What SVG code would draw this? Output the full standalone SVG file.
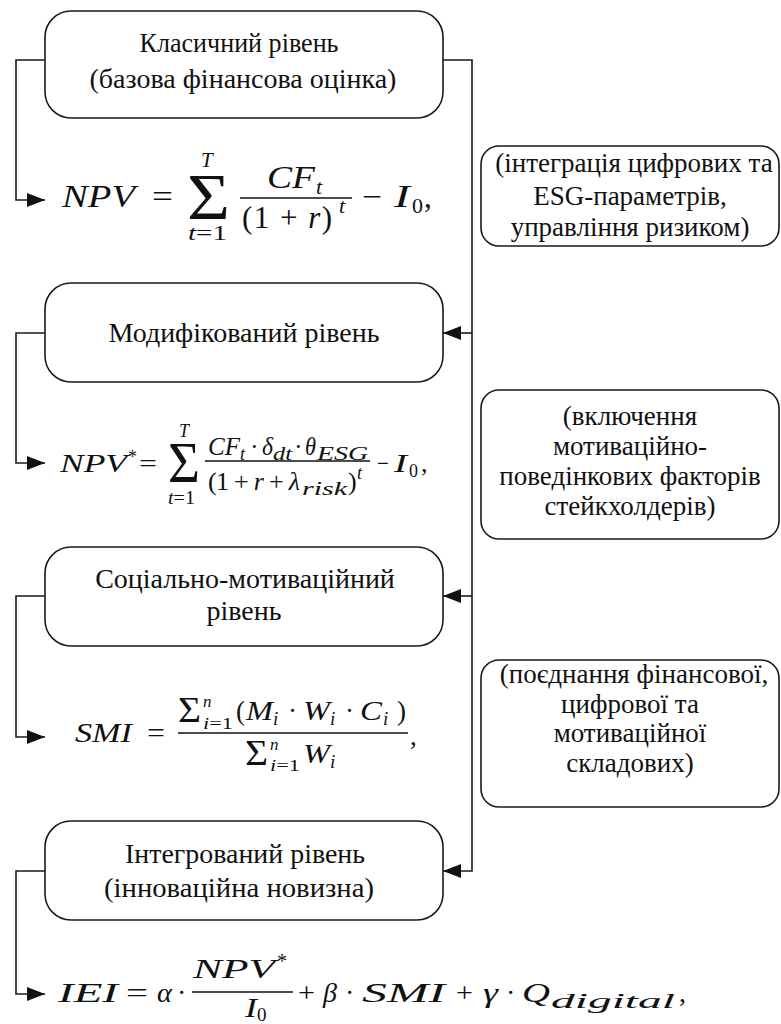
<svg xmlns="http://www.w3.org/2000/svg" width="781" height="1024" viewBox="0 0 781 1024">
<style>
.box{fill:#fff;stroke:#1a1a1a;stroke-width:1.6}
.lbl{font-family:'Liberation Serif','Tinos','DejaVu Serif',serif;font-size:28px;text-anchor:middle;fill:#111}
.note{font-size:27px}
.mi{font-family:'Liberation Serif','Tinos','DejaVu Serif',serif;font-style:italic;fill:#111}
.mu{font-family:'Liberation Serif','Tinos','DejaVu Serif',serif;fill:#111}
.conn{fill:none;stroke:#1a1a1a;stroke-width:1.6}
.frac{stroke:#111;stroke-width:1.4}
</style>
<defs>
<marker id="arr" markerUnits="userSpaceOnUse" markerWidth="18" markerHeight="14" refX="18" refY="7" orient="auto">
<path d="M0,0 L18,7 L0,14 Z" fill="#111"/>
</marker>
</defs>
<rect width="781" height="1024" fill="#fff"/>

<g id="connectors">
<path class="conn" d="M45,60 H16 V200 H45" marker-end="url(#arr)"/>
<path class="conn" d="M45,333 H16 V463 H45" marker-end="url(#arr)"/>
<path class="conn" d="M45,596 H16 V737 H45" marker-end="url(#arr)"/>
<path class="conn" d="M45,871 H16 V994 H45" marker-end="url(#arr)"/>
<path class="conn" d="M443,60 H472 V871 H443" marker-end="url(#arr)"/>
<path class="conn" d="M472,333 H443" marker-end="url(#arr)"/>
<path class="conn" d="M472,596 H443" marker-end="url(#arr)"/>
</g>

<g id="node-classic">
<rect class="box" x="45" y="11" width="398" height="107" rx="26"/>
<text class="lbl" x="239" y="52" font-size="27" textLength="199" lengthAdjust="spacingAndGlyphs">Класичний рівень</text>
<text class="lbl" x="243" y="88">(базова фінансова оцінка)</text>
</g>
<g id="node-modified">
<rect class="box" x="45" y="283" width="398" height="99" rx="26"/>
<text class="lbl" x="244" y="342">Модифікований рівень</text>
</g>
<g id="node-social">
<rect class="box" x="45" y="547" width="398" height="99" rx="26"/>
<text class="lbl" x="245" y="588">Соціально-мотиваційний</text>
<text class="lbl" x="244" y="620">рівень</text>
</g>
<g id="node-integrated">
<rect class="box" x="45" y="821" width="398" height="99" rx="26"/>
<text class="lbl" x="245" y="863" textLength="240" lengthAdjust="spacingAndGlyphs">Інтегрований рівень</text>
<text class="lbl" x="239" y="897" textLength="270" lengthAdjust="spacingAndGlyphs">(інноваційна новизна)</text>
</g>

<g id="note-1">
<rect class="box" x="481" y="146" width="298" height="100" rx="18"/>
<text class="lbl note" x="634" y="172">(інтеграція цифрових та</text>
<text class="lbl note" x="630" y="205">ESG-параметрів,</text>
<text class="lbl note" x="630" y="236">управління ризиком)</text>
</g>
<g id="note-2">
<rect class="box" x="481" y="390" width="298" height="149" rx="18"/>
<text class="lbl note" x="630" y="425">(включення</text>
<text class="lbl note" x="630" y="455">мотиваційно-</text>
<text class="lbl note" x="630" y="485">поведінкових факторів</text>
<text class="lbl note" x="630" y="515">стейкхолдерів)</text>
</g>
<g id="note-3">
<rect class="box" x="481" y="660" width="298" height="147" rx="18"/>
<text class="lbl note" x="634" y="683">(поєднання фінансової,</text>
<text class="lbl note" x="630" y="713">цифрової та</text>
<text class="lbl note" x="630" y="742">мотиваційної</text>
<text class="lbl note" x="630" y="772">складових)</text>
</g>

<g id="formula-1">
<text class="mi" x="62" y="207" font-size="31" textLength="73" lengthAdjust="spacingAndGlyphs">NPV</text>
<text class="mu" x="152" y="207" font-size="31" textLength="21" lengthAdjust="spacingAndGlyphs">=</text>
<text class="mu" x="187" y="219" font-size="66" textLength="43" lengthAdjust="spacingAndGlyphs">Σ</text>
<text class="mi" x="201" y="167" font-size="21">T</text>
<text class="mu" x="188" y="240" font-size="21" textLength="39" lengthAdjust="spacingAndGlyphs"><tspan class="mi">t</tspan>=1</text>
<text class="mi" x="267" y="188" font-size="31" textLength="48" lengthAdjust="spacingAndGlyphs">CF</text>
<text class="mi" x="316" y="194" font-size="22">t</text>
<line class="frac" x1="240" y1="198" x2="352" y2="198"/>
<text class="mu" x="242" y="228" font-size="31" textLength="90" lengthAdjust="spacing">(1 + <tspan class="mi">r</tspan>)</text>
<text class="mi" x="339" y="213" font-size="22">t</text>
<text class="mu" x="362" y="207" font-size="31" textLength="20" lengthAdjust="spacingAndGlyphs">−</text>
<text class="mi" x="394" y="207" font-size="31" textLength="16" lengthAdjust="spacingAndGlyphs">I</text>
<text class="mu" x="412" y="213" font-size="22">0</text>
<text class="mu" x="424" y="207" font-size="31">,</text>
</g>

<g id="formula-2">
<text class="mi" x="60" y="472" font-size="26" textLength="67" lengthAdjust="spacingAndGlyphs">NPV</text>
<text class="mu" x="128" y="463" font-size="18">*</text>
<text class="mu" x="139" y="472" font-size="26" textLength="18" lengthAdjust="spacingAndGlyphs">=</text>
<text class="mu" x="168" y="482" font-size="58" textLength="32" lengthAdjust="spacingAndGlyphs">Σ</text>
<text class="mi" x="179" y="437" font-size="18">T</text>
<text class="mu" x="168" y="504" font-size="18" textLength="27" lengthAdjust="spacingAndGlyphs"><tspan class="mi">t</tspan>=1</text>
<text class="mi" x="208" y="455" font-size="26" textLength="32" lengthAdjust="spacingAndGlyphs">CF</text>
<text class="mi" x="240" y="460" font-size="18">t</text>
<text class="mu" x="250" y="455" font-size="26">·</text>
<text class="mi" x="262" y="455" font-size="26" textLength="11" lengthAdjust="spacingAndGlyphs">δ</text>
<text class="mi" x="273" y="460" font-size="18" textLength="19" lengthAdjust="spacingAndGlyphs">dt</text>
<text class="mu" x="294" y="455" font-size="26">·</text>
<text class="mi" x="305" y="455" font-size="26" textLength="11" lengthAdjust="spacingAndGlyphs">θ</text>
<text class="mi" x="317" y="460" font-size="18" textLength="51" lengthAdjust="spacingAndGlyphs">ESG</text>
<line class="frac" x1="205" y1="461" x2="370" y2="461"/>
<text class="mu" x="208" y="490" font-size="26" textLength="92" lengthAdjust="spacing">(1 + <tspan class="mi">r</tspan> + <tspan class="mi">λ</tspan></text>
<text class="mi" x="302" y="495" font-size="18" textLength="45" lengthAdjust="spacingAndGlyphs">risk</text>
<text class="mu" x="348" y="490" font-size="26">)</text>
<text class="mi" x="357" y="479" font-size="18">t</text>
<text class="mu" x="377" y="472" font-size="26" textLength="12" lengthAdjust="spacingAndGlyphs">−</text>
<text class="mi" x="394" y="472" font-size="26" textLength="13" lengthAdjust="spacingAndGlyphs">I</text>
<text class="mu" x="409" y="477" font-size="18">0</text>
<text class="mu" x="421" y="472" font-size="26">,</text>
</g>

<g id="formula-3">
<text class="mi" x="75" y="742" font-size="27" textLength="57" lengthAdjust="spacingAndGlyphs">SMI</text>
<text class="mu" x="147" y="742" font-size="27" textLength="18" lengthAdjust="spacingAndGlyphs">=</text>
<text class="mu" x="178" y="722" font-size="36" textLength="23" lengthAdjust="spacingAndGlyphs">Σ</text>
<text class="mi" x="203" y="707" font-size="17">n</text>
<text class="mu" x="203" y="729" font-size="17" textLength="30" lengthAdjust="spacingAndGlyphs"><tspan class="mi">i</tspan>=1</text>
<text class="mu" x="236" y="720" font-size="27">(</text>
<text class="mi" x="246" y="720" font-size="27" textLength="27" lengthAdjust="spacingAndGlyphs">M</text>
<text class="mi" x="273" y="725" font-size="19">i</text>
<text class="mu" x="288" y="720" font-size="27">·</text>
<text class="mi" x="303" y="720" font-size="27" textLength="27" lengthAdjust="spacingAndGlyphs">W</text>
<text class="mi" x="330" y="725" font-size="19">i</text>
<text class="mu" x="345" y="720" font-size="27">·</text>
<text class="mi" x="360" y="720" font-size="27" textLength="22" lengthAdjust="spacingAndGlyphs">C</text>
<text class="mi" x="383" y="725" font-size="19">i</text>
<text class="mu" x="397" y="720" font-size="27">)</text>
<line class="frac" x1="178" y1="733" x2="408" y2="733"/>
<text class="mu" x="245" y="765" font-size="36" textLength="23" lengthAdjust="spacingAndGlyphs">Σ</text>
<text class="mi" x="270" y="750" font-size="17">n</text>
<text class="mu" x="270" y="771" font-size="17" textLength="30" lengthAdjust="spacingAndGlyphs"><tspan class="mi">i</tspan>=1</text>
<text class="mi" x="303" y="763" font-size="27" textLength="27" lengthAdjust="spacingAndGlyphs">W</text>
<text class="mi" x="330" y="768" font-size="19">i</text>
<text class="mu" x="410" y="745" font-size="27">,</text>
</g>

<g id="formula-4">
<text class="mi" x="58" y="1002" font-size="28" textLength="60" lengthAdjust="spacingAndGlyphs">IEI</text>
<text class="mu" x="126" y="1002" font-size="28" textLength="22" lengthAdjust="spacingAndGlyphs">=</text>
<text class="mi" x="157" y="1002" font-size="28" textLength="15" lengthAdjust="spacingAndGlyphs">α</text>
<text class="mu" x="177" y="1002" font-size="28">·</text>
<text class="mi" x="193" y="978" font-size="28" textLength="82" lengthAdjust="spacingAndGlyphs">NPV</text>
<text class="mu" x="277" y="968" font-size="20">*</text>
<line class="frac" x1="192" y1="992" x2="293" y2="992"/>
<text class="mi" x="245" y="1017" font-size="28" textLength="12" lengthAdjust="spacingAndGlyphs">I</text>
<text class="mu" x="257" y="1021" font-size="19">0</text>
<text class="mu" x="298" y="1002" font-size="28" textLength="17" lengthAdjust="spacingAndGlyphs">+</text>
<text class="mi" x="323" y="1002" font-size="28" textLength="14" lengthAdjust="spacingAndGlyphs">β</text>
<text class="mu" x="345" y="1002" font-size="28">·</text>
<text class="mi" x="362" y="1002" font-size="28" textLength="83" lengthAdjust="spacingAndGlyphs">SMI</text>
<text class="mu" x="456" y="1002" font-size="28" textLength="17" lengthAdjust="spacingAndGlyphs">+</text>
<text class="mi" x="483" y="1002" font-size="28" textLength="15" lengthAdjust="spacingAndGlyphs">γ</text>
<text class="mu" x="506" y="1002" font-size="28">·</text>
<text class="mi" x="522" y="1002" font-size="28" textLength="28" lengthAdjust="spacingAndGlyphs">Q</text>
<text class="mi" x="551" y="1008" font-size="21" textLength="124" lengthAdjust="spacingAndGlyphs">digital</text>
<text class="mu" x="679" y="1002" font-size="28">,</text>
</g>
</svg>
